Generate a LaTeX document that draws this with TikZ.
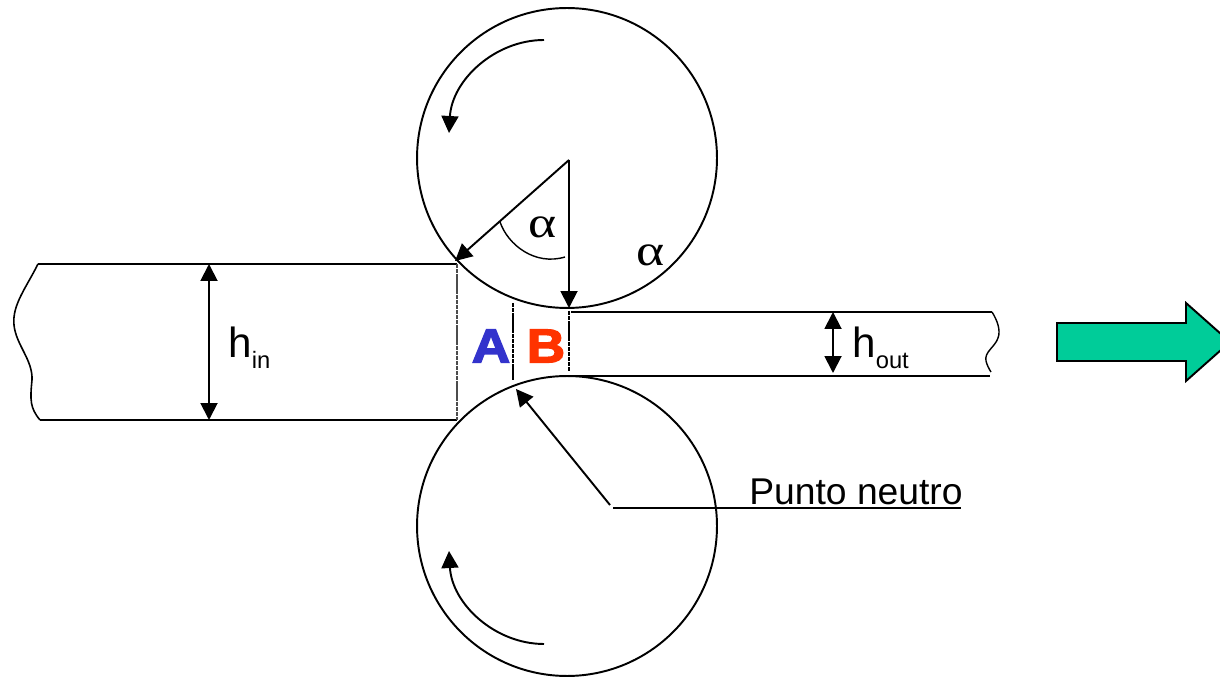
\documentclass[tikz,border=0pt]{standalone}
\usepackage{fontspec}
\setmainfont{Liberation Sans}
\newfontfamily\alphafont[FakeStretch=1.22]{Liberation Serif}
\newfontfamily\heavyfont[BoldFeatures={FakeBold=3,FakeStretch=1.12}]{Liberation Sans}
\usetikzlibrary{arrows.meta}
\newcommand{\hlabel}[1]{\fontsize{24}{28}\selectfont h\raisebox{-0.24em}{\fontsize{13.5}{15}\selectfont #1}}
\definecolor{flowgreen}{HTML}{00CC99}
\definecolor{letterblue}{HTML}{3333CC}
\definecolor{letterred}{HTML}{FF3300}
\tikzset{
	plain/.style={line width=1.1pt},
	thinline/.style={line width=0.8pt, dash pattern=on 2.5pt off 0.4pt},
	pointer/.style={line width=1.1pt, -{Triangle[length=0.34cm, width=0.34cm]}},
	twoway/.style={line width=1.1pt, {Triangle[length=0.34cm, width=0.34cm]}-{Triangle[length=0.34cm, width=0.34cm]}},
	roll/.style={circle, draw, line width=1.1pt, minimum size=6cm, inner sep=0pt},
	letter/.style={font=\heavyfont\bfseries\fontsize{27}{32}\selectfont, inner sep=0pt},
	greek/.style={font=\alphafont\fontsize{25}{28}\selectfont, inner sep=0pt},
}
\begin{document}
\begin{tikzpicture}[x=0.02cm, y=-0.02cm]
	\useasboundingbox (0, 0) rectangle (1220, 678);
	\node[roll] (upper) at (567, 158) {};
	\node[roll] (lower) at (567, 526) {};
	% incoming strip
	\coordinate (inTL) at (38, 264);
	\coordinate (inTR) at (457, 264);
	\coordinate (inBL) at (40, 420);
	\coordinate (inBR) at (457, 420);
	\draw[plain] (inTL) -- (inTR);
	\draw[plain] (inBL) -- (inBR);
	\draw[line width=0.9pt] (inTL) .. controls (26, 288) and (12, 305) .. (14, 325) .. controls (16, 345) and (33, 360) .. (32, 380) .. controls (30, 400) and (30, 408) .. (inBL);
	\draw[thinline, black!70] (inTR) -- (inBR);
	% outgoing strip
	\coordinate (outTL) at (571, 312);
	\coordinate (outTR) at (992, 312);
	\coordinate (outBL) at (569, 376);
	\coordinate (outBR) at (990, 376);
	\draw[plain] (outTL) -- (outTR);
	\draw[plain] (outBL) -- (outBR);
	\draw[line width=0.8pt] (outTR) .. controls (997, 320) and (1001, 330) .. (998, 338) .. controls (995, 347) and (984, 352) .. (986, 361) .. controls (987, 365) and (989, 369) .. (991, 372);
	% zone borders
	\coordinate (midT) at (513, 303);
	\coordinate (midB) at (513, 380);
	\coordinate (exitT) at (569, 311);
	\coordinate (exitB) at (569, 372);
	\draw[thinline] (midT) -- (midB);
	\draw[thinline] (exitT) -- (exitB);
	\node[letter, text=letterblue] (zoneA) at (491, 346) {A};
	\node[letter, text=letterred] (zoneB) at (546, 346) {B};
	% angle
	\coordinate (apex) at (569, 160);
	\coordinate (entry) at (455, 261);
	\coordinate (contact) at (569, 308);
	\coordinate (arcS) at (500, 222);
	\coordinate (arcE) at (565, 257);
	\draw[pointer] (apex) -- (entry);
	\draw[pointer] (apex) -- (contact);
	\draw[line width=0.8pt] (arcS) .. controls (508, 245) and (535, 266) .. (arcE);
	\node[greek] (alphaIn) at (543, 227) {α};
	\node[greek] (alphaOut) at (651, 255) {α};
	% rotation
	\coordinate (topS) at (544, 40);
	\coordinate (topE) at (449, 133);
	\coordinate (botS) at (544, 644);
	\coordinate (botE) at (449, 551);
	\draw[pointer] (topS) .. controls (495, 40) and (452, 80) .. (topE);
	\draw[pointer] (botS) .. controls (495, 644) and (452, 604) .. (botE);
	% heights
	\coordinate (hinT) at (209, 264);
	\coordinate (hinB) at (209, 420);
	\coordinate (houtT) at (833, 312);
	\coordinate (houtB) at (833, 373);
	\draw[twoway] (hinT) -- (hinB);
	\draw[twoway] (houtT) -- (houtB);
	\node[anchor=base west, inner sep=0pt] (hin) at (228, 358) {\hlabel{in}};
	\node[anchor=base west, inner sep=0pt] (hout) at (852, 358) {\hlabel{out}};
	% neutral point
	\node[anchor=base west, inner sep=0pt, font=\fontsize{21.2}{25}\selectfont] (neutro) at (749, 504) {Punto neutro};
	\coordinate (leaderS) at (613, 508);
	\coordinate (leaderE) at (961, 508);
	\coordinate (neutralS) at (610, 505);
	\coordinate (neutralE) at (516, 389);
	\draw[plain] (leaderS) -- (leaderE);
	\draw[pointer] (neutralS) -- (neutralE);
	% direction arrow
	\draw[line width=1.1pt, fill=flowgreen] (1057, 323) -- (1186, 323) -- (1186, 303) -- (1230, 342) -- (1186, 381) -- (1186, 361) -- (1057, 361) -- cycle;
\end{tikzpicture}
\end{document}
